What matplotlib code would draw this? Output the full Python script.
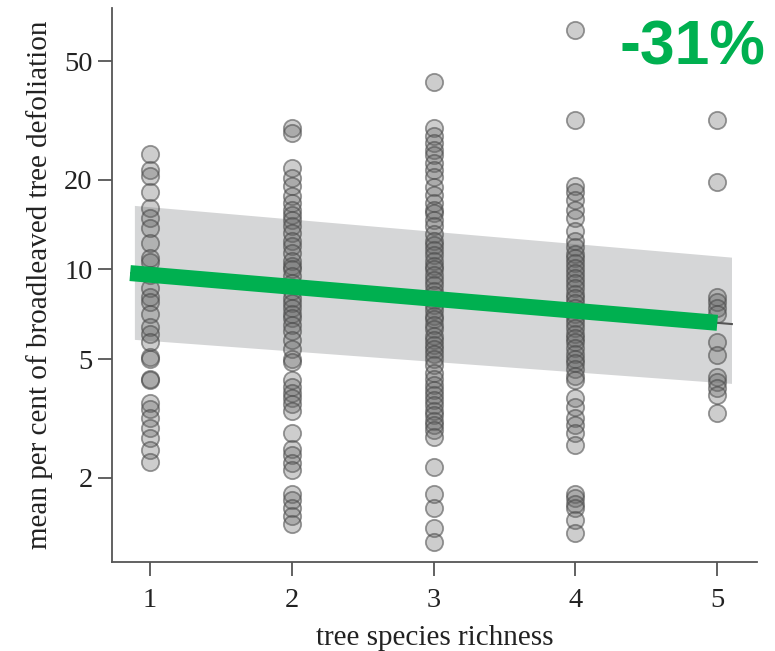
import numpy as np
import matplotlib; matplotlib.use("Agg")
import matplotlib.pyplot as plt
from matplotlib.ticker import FixedLocator, NullLocator

# per-plot defoliation values (%) for each tree species richness level
richness_levels = [1, 2, 3, 4, 5]
defol_r1 = [24.4, 21.5, 20.6, 18.2, 16.1, 14.9, 13.8, 12.3, 10.9, 10.6, 9.6, 8.7,
            8.1, 7.8, 7.1, 6.4, 6.1, 5.7, 5.1, 5.0, 4.3, 4.25, 3.56, 3.4, 3.17,
            2.93, 2.72, 2.48, 2.26]
defol_r2 = [29.8, 28.7, 21.9, 20.2, 19.0, 17.6, 16.7, 15.8, 15.2, 14.6, 14.0, 13.3,
            12.5, 12.0, 11.4, 10.7, 10.3, 10.0, 9.5, 9.0, 8.5, 8.0, 7.7, 7.4, 7.1,
            6.9, 6.5, 6.2, 5.8, 5.4, 5.0, 4.9, 4.25, 4.05, 3.85, 3.7, 3.53, 3.35,
            2.84, 2.51, 2.38, 2.24, 2.12, 1.76, 1.69, 1.58, 1.49, 1.40]
defol_r3 = [42.5, 29.8, 28.0, 26.5, 25.1, 24.2, 22.7, 21.5, 20.4, 18.9, 17.8, 16.7,
            15.8, 15.5, 14.6, 14.0, 13.2, 12.5, 12.1, 11.6, 11.2, 10.7, 10.3, 10.0,
            9.6, 9.2, 8.9, 8.5, 8.2, 7.9, 7.6, 7.3, 7.0, 6.8, 6.5, 6.3, 6.0, 5.8,
            5.6, 5.4, 5.2, 5.0, 4.8, 4.5, 4.3, 4.1, 3.95, 3.8, 3.65, 3.5, 3.35,
            3.25, 3.1, 3.0, 2.9, 2.74, 2.17, 1.77, 1.58, 1.36, 1.22]
defol_r4 = [63.5, 31.7, 19.0, 18.2, 17.1, 15.8, 14.9, 13.5, 12.5, 11.9, 11.3, 10.9,
            10.5, 10.1, 9.7, 9.35, 9.0, 8.65, 8.3, 8.0, 7.7, 7.4, 7.1, 6.9, 6.6,
            6.35, 6.1, 5.9, 5.7, 5.45, 5.2, 5.0, 4.85, 4.65, 4.4, 4.25, 3.7, 3.45,
            3.17, 3.0, 2.82, 2.57, 1.77, 1.71, 1.64, 1.58, 1.44, 1.31]
defol_r5 = [31.7, 19.6, 8.1, 7.75, 7.4, 7.1, 5.7, 5.15, 4.35, 4.2, 4.0, 3.8, 3.3]
defol_by_level = [defol_r1, defol_r2, defol_r3, defol_r4, defol_r5]

# fitted model: value at richness 1 and relative change from 1 to 5 species
fit_at_1 = 9.6
fit_change = -0.31
fit_x = [0.86, 5.0]
# confidence band end points
band_x = [0.89, 5.1]
band_lo = [5.83, 4.15]
band_hi = [16.4, 11.0]

ytick_vals = [2, 5, 10, 20, 50]

GREEN = "#00b050"
plt.rcParams["font.family"] = ["Liberation Serif", "DejaVu Serif"]

fig = plt.figure(figsize=(7.75, 6.51), dpi=100)
ax = fig.add_axes([0.1445, 0.1367, 0.8323, 0.851])
ax.set_yscale("log")

ax.fill_between(band_x, band_lo, band_hi, color="#d5d6d7", lw=0, zorder=1)

for lvl, vals in zip(richness_levels, defol_by_level):
    ax.scatter(np.full(len(vals), lvl), vals, s=155,
               facecolor=(0.40, 0.40, 0.40, 0.32),
               edgecolor=(0.28, 0.28, 0.28, 0.55), linewidth=1.3, zorder=2)

def fit(x):
    return fit_at_1 * (1 + fit_change) ** ((np.asarray(x) - 1) / 4)

# thin model line, mostly hidden under the highlight
fx_thin = [0.86, 5.11]
ax.plot(fx_thin, fit(fx_thin), color="#555555", lw=1.5, zorder=3,
        solid_capstyle="butt")
ax.plot(fit_x, fit(fit_x), color=GREEN, lw=11.5, zorder=4,
        solid_capstyle="butt")

ax.set_xlim(0.732, 5.28)
ax.set_ylim(1.045, 75.3)
ax.set_xticks(richness_levels)
ax.yaxis.set_major_locator(FixedLocator(ytick_vals))
ax.yaxis.set_minor_locator(NullLocator())
ax.set_yticklabels([str(v) for v in ytick_vals])

for s in ("top", "right"):
    ax.spines[s].set_visible(False)
for s in ("left", "bottom"):
    ax.spines[s].set_color("#555555")
    ax.spines[s].set_linewidth(1.3)
ax.tick_params(axis="both", direction="out", length=10, width=1.3,
               color="#555555", labelsize=20.5, labelcolor="#222222", pad=4)
ax.tick_params(axis="x", pad=9)

ax.set_xlabel("tree species richness", fontsize=21, color="#222222", labelpad=8)
ax.set_ylabel("mean per cent of broadleaved tree defoliation", fontsize=21,
              color="#222222", labelpad=8)

fig.text(0.988, 0.927, "-31%", color=GREEN, fontsize=45, fontweight="bold",
         family=["Liberation Sans", "DejaVu Sans"], ha="right", va="center")

fig.savefig("out.png", dpi=100)
